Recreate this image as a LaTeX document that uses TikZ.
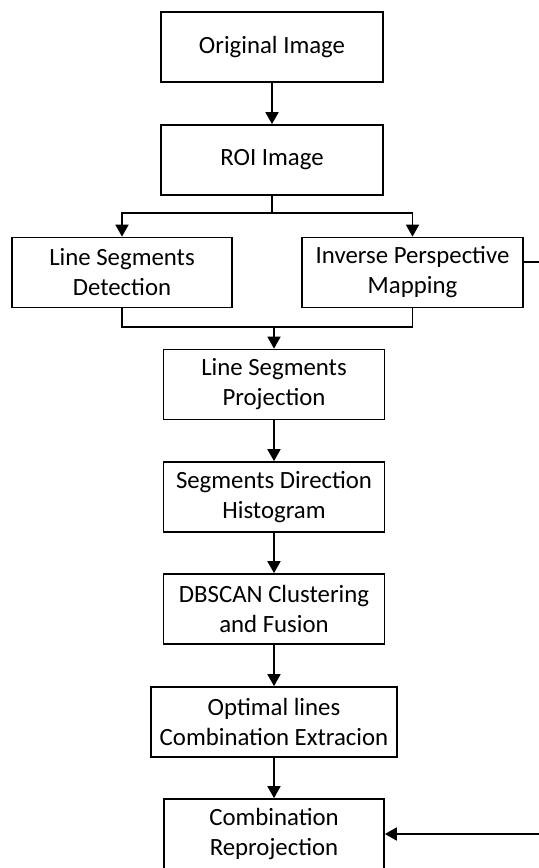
\documentclass[tikz,border=0pt]{standalone}
\usepackage{fontspec}
\setmainfont{Carlito}
\usepackage{tikz}
\usetikzlibrary{arrows.meta, calc}

\begin{document}
\begin{tikzpicture}[x=0.5pt, y=-0.5pt, line width=0.85pt,
        box/.style={draw, align=center, minimum width=111pt, minimum height=35pt,
            inner sep=0pt, font=\fontsize{12.4}{15}\selectfont},
        arr/.style={-{Triangle[length=6pt, width=6.5pt]}}]
        \useasboundingbox (0,0) rectangle (539,868);

        \node [box] (orig) at (272, 47) {Original Image};
        \node [box] (roi) at (272, 160) {ROI Image};
        \node [box, minimum width=110pt] (lsd) at (122, 272.5) {Line Segments\\Detection};
        \node [box, minimum width=110.5pt] (ipm) at (412.5, 272.5) {Inverse Perspective\\Mapping};
        \node [box, minimum width=110.5pt] (lsp) at (274, 384.5) {Line Segments\\Projection};
        \node [box, minimum width=110.5pt] (sdh) at (274, 497) {Segments Direction\\Histogram};
        \node [box, minimum width=110.5pt] (dbscan) at (274, 609) {DBSCAN Clustering\\and Fusion};
        \node [box, minimum width=123pt] (optimal) at (274, 722) {Optimal lines\\Combination Extracion};
        \node [box, minimum width=110pt] (reproj) at (274, 834) {Combination\\Reprojection};

        \coordinate (split) at (272, 213);
        \coordinate (join) at (274, 327);
        \coordinate (fbtop) at (541, 262);
        \coordinate (fbbot) at (541, 834);

        \draw [arr] (orig) -- (roi);
        \draw (roi) -- (split);
        \draw [arr] (split) -| (lsd);
        \draw [arr] (split) -| (ipm);
        \draw (lsd) |- (join);
        \draw (ipm) |- (join);
        \draw [arr] (join) -- (lsp);
        \draw [arr] (lsp) -- (sdh);
        \draw [arr] (sdh) -- (dbscan);
        \draw [arr] (dbscan) -- (optimal);
        \draw [arr] (optimal) -- (reproj);

        % feedback from IPM, runs past the right edge
        \draw [arr] (ipm.east |- fbtop) -- (fbtop) -- (fbbot) -- (reproj);
\end{tikzpicture}
\end{document}
